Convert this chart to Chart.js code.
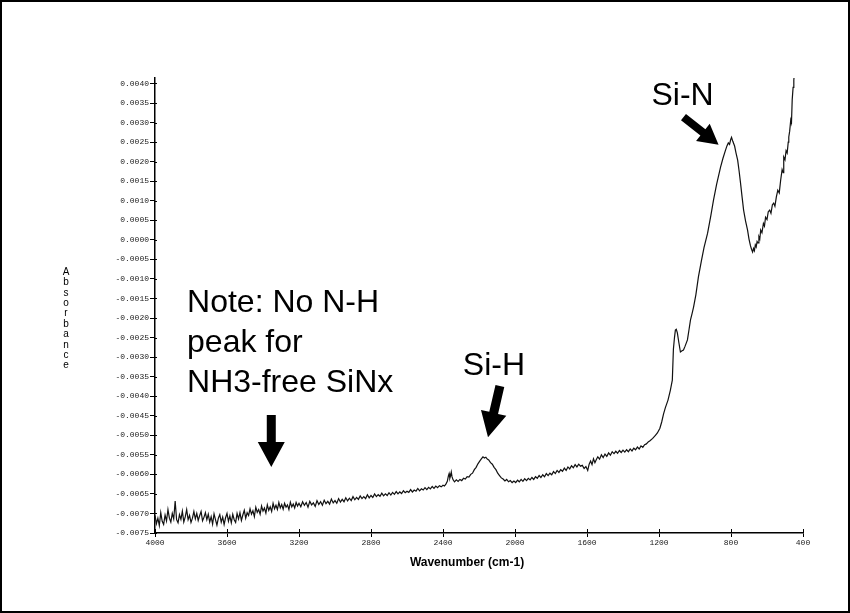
<!DOCTYPE html>
<html>
<head>
<meta charset="utf-8">
<script src="https://cdn.jsdelivr.net/npm/chart.js@4.4.1/dist/chart.umd.min.js"></script>
<style>
  html, body { margin: 0; padding: 0; background: #fff; }
  canvas { display: block; }
</style>
</head>
<body>
<canvas id="ftir" width="850" height="613"></canvas>
<script>
// FTIR absorbance spectrum, [wavenumber cm-1, absorbance]
const spectrum = [
  [4000,-0.00705],[3992,-0.00726],[3984,-0.00712],[3976,-0.00731],[3968,-0.00698],[3960,-0.00720],
  [3952,-0.00728],[3944,-0.00704],[3936,-0.00719],[3928,-0.00690],[3920,-0.00712],[3912,-0.00722],
  [3904,-0.00700],[3896,-0.00714],[3888,-0.00668],[3880,-0.00716],[3872,-0.00724],[3864,-0.00703],
  [3856,-0.00715],[3848,-0.00694],[3840,-0.00722],[3832,-0.00709],[3824,-0.00690],[3816,-0.00716],
  [3808,-0.00705],[3800,-0.00723],[3792,-0.00712],[3784,-0.00695],[3776,-0.00714],[3768,-0.00700],
  [3760,-0.00718],[3752,-0.00706],[3744,-0.00695],[3736,-0.00719],[3728,-0.00710],[3720,-0.00698],
  [3712,-0.00716],[3704,-0.00702],[3696,-0.00722],[3688,-0.00708],[3680,-0.00727],[3672,-0.00701],
  [3664,-0.00716],[3656,-0.00730],[3648,-0.00712],[3640,-0.00703],[3632,-0.00722],[3624,-0.00709],
  [3616,-0.00728],[3608,-0.00711],[3600,-0.00700],[3592,-0.00720],[3584,-0.00706],[3576,-0.00724],
  [3568,-0.00702],[3560,-0.00716],[3552,-0.00723],[3544,-0.00700],[3536,-0.00714],[3528,-0.00698],
  [3520,-0.00718],[3512,-0.00704],[3504,-0.00692],[3496,-0.00712],[3488,-0.00698],[3480,-0.00705],
  [3472,-0.00688],[3464,-0.00702],[3456,-0.00693],[3448,-0.00708],[3440,-0.00684],[3432,-0.00697],
  [3424,-0.00690],[3416,-0.00702],[3408,-0.00681],[3400,-0.00694],[3392,-0.00686],[3384,-0.00699],
  [3376,-0.00678],[3368,-0.00692],[3360,-0.00683],[3352,-0.00695],[3344,-0.00674],[3336,-0.00688],
  [3328,-0.00679],[3320,-0.00690],[3312,-0.00672],[3304,-0.00686],[3296,-0.00677],[3288,-0.00689],
  [3280,-0.00674],[3272,-0.00684],[3264,-0.00678],[3256,-0.00690],[3248,-0.00671],[3240,-0.00683],
  [3232,-0.00676],[3224,-0.00686],[3216,-0.00672],[3208,-0.00681],[3200,-0.00674],
  [3190,-0.00683],[3180,-0.00670],[3170,-0.00679],[3160,-0.00672],[3150,-0.00684],[3140,-0.00669],
  [3130,-0.00678],[3120,-0.00673],[3110,-0.00682],[3100,-0.00667],[3090,-0.00677],[3080,-0.00670],
  [3070,-0.00679],[3060,-0.00666],[3050,-0.00675],[3040,-0.00669],[3030,-0.00676],[3020,-0.00663],
  [3010,-0.00673],[3000,-0.00667],[2990,-0.00674],[2980,-0.00662],[2970,-0.00671],[2960,-0.00664],
  [2950,-0.00670],[2940,-0.00660],[2930,-0.00668],[2920,-0.00661],[2910,-0.00667],[2900,-0.00657],
  [2890,-0.00665],[2880,-0.00659],[2870,-0.00664],[2860,-0.00655],[2850,-0.00662],[2840,-0.00657],
  [2830,-0.00662],[2820,-0.00652],[2810,-0.00660],[2800,-0.00654],[2790,-0.00659],[2780,-0.00650],
  [2770,-0.00657],[2760,-0.00652],[2750,-0.00656],[2740,-0.00648],[2730,-0.00655],[2720,-0.00650],
  [2710,-0.00654],[2700,-0.00647],[2690,-0.00653],[2680,-0.00646],[2670,-0.00651],[2660,-0.00644],
  [2650,-0.00650],[2640,-0.00645],[2630,-0.00649],[2620,-0.00642],[2610,-0.00647],[2600,-0.00643],
  [2590,-0.00646],[2580,-0.00639],[2570,-0.00645],[2560,-0.00640],[2550,-0.00643],[2540,-0.00636],
  [2530,-0.00642],[2520,-0.00637],[2510,-0.00640],[2500,-0.00634],[2490,-0.00639],[2480,-0.00633],
  [2470,-0.00637],[2460,-0.00631],[2450,-0.00636],[2440,-0.00630],[2430,-0.00634],[2420,-0.00629],
  [2410,-0.00632],[2400,-0.00628],
  // CO2 doublet, Si-H stretch
  [2392,-0.00630],[2384,-0.00625],[2376,-0.00618],[2370,-0.00604],[2366,-0.00598],[2362,-0.00610],
  [2358,-0.00604],[2354,-0.00594],[2350,-0.00606],[2344,-0.00614],[2336,-0.00619],[2326,-0.00614],
  [2316,-0.00618],[2306,-0.00613],[2296,-0.00616],[2286,-0.00610],[2276,-0.00612],[2266,-0.00606],
  [2256,-0.00607],[2246,-0.00600],[2236,-0.00597],[2226,-0.00588],[2216,-0.00582],[2206,-0.00573],
  [2196,-0.00566],[2186,-0.00560],[2178,-0.00555],[2170,-0.00558],[2162,-0.00556],[2154,-0.00561],
  [2146,-0.00563],[2136,-0.00570],[2126,-0.00574],[2116,-0.00582],[2106,-0.00588],[2096,-0.00597],
  [2086,-0.00603],[2076,-0.00609],[2066,-0.00612],[2056,-0.00617],[2046,-0.00613],[2036,-0.00619],
  [2026,-0.00616],[2016,-0.00621],[2006,-0.00617],
  [1996,-0.00621],[1986,-0.00615],[1976,-0.00619],[1966,-0.00613],[1956,-0.00618],[1946,-0.00611],
  [1936,-0.00616],[1926,-0.00610],[1916,-0.00614],[1906,-0.00608],[1896,-0.00613],[1886,-0.00606],
  [1876,-0.00610],[1866,-0.00603],[1856,-0.00608],[1846,-0.00601],[1836,-0.00606],[1826,-0.00598],
  [1816,-0.00603],[1806,-0.00597],[1796,-0.00601],[1786,-0.00593],[1776,-0.00598],[1766,-0.00590],
  [1756,-0.00595],[1746,-0.00588],[1736,-0.00592],[1726,-0.00584],[1716,-0.00590],[1706,-0.00581],
  [1696,-0.00586],[1686,-0.00578],[1676,-0.00583],[1666,-0.00575],[1656,-0.00581],[1646,-0.00574],
  [1636,-0.00579],[1626,-0.00577],[1616,-0.00585],[1606,-0.00580],[1596,-0.00590],[1588,-0.00574],
  [1580,-0.00566],[1572,-0.00575],[1564,-0.00560],[1556,-0.00570],[1548,-0.00562],[1540,-0.00555],
  [1530,-0.00561],[1520,-0.00550],[1510,-0.00557],[1500,-0.00548],[1490,-0.00554],[1480,-0.00545],
  [1470,-0.00551],[1460,-0.00542],[1450,-0.00547],[1440,-0.00541],[1430,-0.00546],[1420,-0.00539],
  [1410,-0.00544],[1400,-0.00538],[1390,-0.00543],[1380,-0.00537],[1370,-0.00542],[1360,-0.00535],
  [1350,-0.00540],[1340,-0.00533],[1330,-0.00537],[1320,-0.00530],[1310,-0.00535],[1300,-0.00527],
  [1290,-0.00531],[1280,-0.00524],[1270,-0.00522],[1260,-0.00517],[1250,-0.00514],
  [1235,-0.00508],[1220,-0.00500],[1209,-0.00494],[1195,-0.00482],[1185,-0.00466],[1175,-0.00446],
  [1165,-0.00430],[1150,-0.00410],[1137,-0.00385],[1126,-0.00359],[1120,-0.00280],[1114,-0.00250],
  [1109,-0.00231],[1104,-0.00229],[1098,-0.00238],[1090,-0.00262],[1081,-0.00287],[1072,-0.00284],
  [1064,-0.00282],[1055,-0.00272],[1042,-0.00256],[1034,-0.00232],[1025,-0.00205],[1016,-0.00188],
  [1008,-0.00172],[995,-0.00140],[981,-0.00095],[965,-0.00055],[950,-0.00020],[930,0.00017],
  [912,0.00062],[897,0.00102],
  // Si-N stretch
  [880,0.00142],[858,0.00186],[845,0.00208],[830,0.00230],[822,0.00241],[815,0.00248],
  [808,0.00244],[802,0.00256],[797,0.00262],[790,0.00252],[780,0.00240],[772,0.00222],
  [763,0.00204],[755,0.00176],[747,0.00145],[738,0.00108],[730,0.00076],[719,0.00048],
  [708,0.00025],[700,0.00002],[692,-0.00015],[686,-0.00024],[680,-0.00031],[675,-0.00022],
  [670,-0.00028],[665,-0.00013],[660,-0.00018],[655,-0.00004],[650,-0.00008],[645,0.00008],
  [640,0.00002],[635,0.00025],[628,0.00018],[620,0.00042],[614,0.00035],[608,0.00058],
  [600,0.00052],[593,0.00072],[585,0.00076],[578,0.00068],[570,0.00090],[563,0.00094],
  [556,0.00086],[548,0.00110],[540,0.00127],[532,0.00120],[524,0.00153],[516,0.00180],
  [510,0.00172],[507,0.00212],[500,0.00205],[494,0.00228],[488,0.00222],[482,0.00250],
  [479,0.00263],[474,0.00278],[468,0.00307],[464,0.00300],[460,0.00358],[455,0.00390],
  [451,0.00409],[445,0.00440],[440,0.00470]
];

const xTicks = [4000, 3600, 3200, 2800, 2400, 2000, 1600, 1200, 800, 400];
const yTicks = [0.0040, 0.0035, 0.0030, 0.0025, 0.0020, 0.0015, 0.0010, 0.0005, 0.0000,
  -0.0005, -0.0010, -0.0015, -0.0020, -0.0025, -0.0030, -0.0035, -0.0040, -0.0045,
  -0.0050, -0.0055, -0.0060, -0.0065, -0.0070, -0.0075];

// callouts, anchored in data units [wavenumber, absorbance]
const noteLines = ['Note: No N-H', 'peak for', 'NH3-free SiNx'];
const noteAnchor = [3822, -0.00185];
const labels = [
  { text: 'Si-H', at: [2290, -0.00346] },
  { text: 'Si-N', at: [1242, 0.00345] }
];
const arrows = [
  { from: [3354, -0.00448], to: [3354, -0.00581], shaft: 9, headW: 27, headL: 25 },
  { from: [2084, -0.00374], to: [2150, -0.00505], shaft: 9, headW: 26, headL: 25 },
  { from: [1064, 0.00314], to: [869, 0.00243], shaft: 8, headW: 22, headL: 20 }
];

function drawArrow(ctx, x1, y1, x2, y2, shaft, headW, headL) {
  const ang = Math.atan2(y2 - y1, x2 - x1);
  const len = Math.hypot(x2 - x1, y2 - y1);
  ctx.save();
  ctx.translate(x1, y1);
  ctx.rotate(ang);
  ctx.beginPath();
  ctx.moveTo(0, -shaft / 2);
  ctx.lineTo(len - headL, -shaft / 2);
  ctx.lineTo(len - headL, -headW / 2);
  ctx.lineTo(len, 0);
  ctx.lineTo(len - headL, headW / 2);
  ctx.lineTo(len - headL, shaft / 2);
  ctx.lineTo(0, shaft / 2);
  ctx.closePath();
  ctx.fill();
  ctx.restore();
}

const decorations = {
  id: 'decorations',
  beforeDraw(chart) {
    const ctx = chart.ctx;
    ctx.save();
    ctx.fillStyle = '#fff';
    ctx.fillRect(0, 0, chart.width, chart.height);
    ctx.restore();
  },
  afterDraw(chart) {
    const ctx = chart.ctx;
    const xs = chart.scales.x, ys = chart.scales.y;
    const area = chart.chartArea;
    const px = w => xs.getPixelForValue(w);
    const py = a => ys.getPixelForValue(a);
    ctx.save();

    // ticks crossing into the plot
    ctx.strokeStyle = '#000';
    ctx.lineWidth = 1;
    ctx.beginPath();
    yTicks.forEach(v => {
      const y = Math.round(py(v)) + 0.5;
      ctx.moveTo(area.left, y);
      ctx.lineTo(area.left + 2, y);
    });
    xTicks.forEach(w => {
      const x = Math.round(px(w)) + 0.5;
      ctx.moveTo(x, area.bottom);
      ctx.lineTo(x, area.bottom - 4);
    });
    ctx.stroke();

    // axis titles
    ctx.fillStyle = '#000';
    ctx.font = 'bold 12px "Liberation Sans", Arial, sans-serif';
    ctx.textAlign = 'center';
    ctx.textBaseline = 'middle';
    ctx.fillText('Wavenumber (cm-1)', 467, area.bottom + 30);

    ctx.font = '10px "Liberation Sans", Arial, sans-serif';
    'Absorbance'.split('').forEach((ch, i) => {
      ctx.fillText(ch, area.left - 89, 272 + i * 10.4);
    });

    // callout text
    ctx.font = '32px "Liberation Sans", Arial, sans-serif';
    ctx.textAlign = 'left';
    ctx.textBaseline = 'alphabetic';
    noteLines.forEach((line, i) => {
      ctx.fillText(line, px(noteAnchor[0]), py(noteAnchor[1]) + i * 40);
    });
    labels.forEach(l => ctx.fillText(l.text, px(l.at[0]), py(l.at[1])));

    arrows.forEach(a => {
      drawArrow(ctx, px(a.from[0]), py(a.from[1]), px(a.to[0]), py(a.to[1]), a.shaft, a.headW, a.headL);
    });

    // page frame
    ctx.lineWidth = 2;
    ctx.strokeRect(1, 1, chart.width - 2, chart.height - 2);
    ctx.restore();
  }
};

const tickFont = { family: '"Liberation Mono", "DejaVu Sans Mono", monospace', size: 8 };

new Chart(document.getElementById('ftir').getContext('2d'), {
  type: 'line',
  data: {
    datasets: [{
      data: spectrum.map(p => ({ x: p[0], y: p[1] })),
      borderColor: '#111',
      borderWidth: 1.2,
      pointRadius: 0,
      tension: 0,
      fill: false
    }]
  },
  options: {
    responsive: false,
    animation: false,
    devicePixelRatio: 1,
    layout: { padding: { left: 0, right: 47, top: 78, bottom: 0 } },
    events: [],
    plugins: { legend: { display: false }, tooltip: { enabled: false } },
    scales: {
      x: {
        type: 'linear',
        reverse: true,
        min: 400,
        max: 4000,
        afterFit: s => { s.height = 80; },
        afterBuildTicks: s => { s.ticks = xTicks.map(v => ({ value: v })); },
        grid: { drawOnChartArea: false, drawTicks: true, tickLength: 4, color: '#000' },
        border: { display: true, color: '#000', width: 1.5 },
        ticks: { font: tickFont, color: '#222', padding: 1, maxRotation: 0, autoSkip: false,
                 callback: v => String(v) }
      },
      y: {
        min: -0.0075,
        max: 0.00414,
        afterFit: s => { s.width = 155; },
        afterBuildTicks: s => { s.ticks = yTicks.map(v => ({ value: v })); },
        grid: { drawOnChartArea: false, drawTicks: true, tickLength: 5, color: '#000' },
        border: { display: true, color: '#000', width: 1.5 },
        ticks: { font: tickFont, color: '#222', padding: 1, autoSkip: false,
                 callback: v => Number(v).toFixed(4) }
      }
    }
  },
  plugins: [decorations]
});
</script>
</body>
</html>
